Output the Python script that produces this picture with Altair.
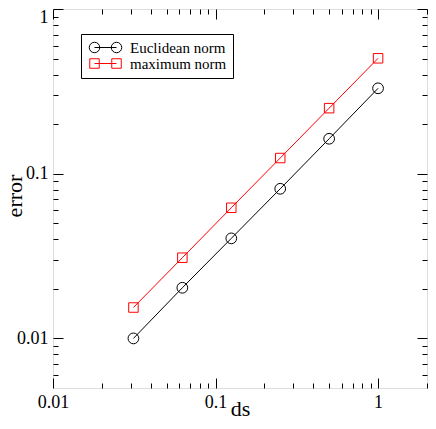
import altair as alt
import pandas as pd

# ---- data ----
ds = [0.03125, 0.0625, 0.125, 0.25, 0.5, 1.0]
euclidean = [0.0100, 0.0203, 0.0405, 0.0810, 0.163, 0.330]
maximum = [0.0154, 0.0309, 0.0621, 0.1245, 0.250, 0.502]
series = ["Euclidean norm", "maximum norm"]
colors = ["black", "red"]
shapes = ["circle", "square"]
sizes = [115, 90]

x_domain = [0.01, 2]
y_domain = [0.005, 1]
x_ticks = [0.01, 0.02, 0.03, 0.04, 0.05, 0.06, 0.07, 0.08, 0.09,
           0.1, 0.2, 0.3, 0.4, 0.5, 0.6, 0.7, 0.8, 0.9, 1, 2]
y_ticks = [0.006, 0.007, 0.008, 0.009,
           0.01, 0.02, 0.03, 0.04, 0.05, 0.06, 0.07, 0.08, 0.09,
           0.1, 0.2, 0.3, 0.4, 0.5, 0.6, 0.7, 0.8, 0.9, 1]

rows = []
for x, e, m in zip(ds, euclidean, maximum):
    rows.append({"ds": x, "error": e, "series": series[0]})
    rows.append({"ds": x, "error": m, "series": series[1]})
df = pd.DataFrame(rows)

W = 374
H = 379
FONT = "Liberation Serif"

# legend glyphs: marker - line - marker
legend_paths = [
    "M-1.05,0 A1.05,1.05 0 1,0 1.05,0 A1.05,1.05 0 1,0 -1.05,0 Z "
    "M0,0 L4.4,0 "
    "M3.35,0 A1.05,1.05 0 1,0 5.45,0 A1.05,1.05 0 1,0 3.35,0 Z",
    "M-0.95,-0.95 L0.95,-0.95 L0.95,0.95 L-0.95,0.95 Z "
    "M0,0 L4.4,0 "
    "M3.45,-0.95 L5.35,-0.95 L5.35,0.95 L3.45,0.95 Z",
]

major_test = "indexof([0.01, 0.1, 1], datum.value) >= 0"
label_expr = major_test + " ? datum.label : ''"
tick_size = {"condition": {"test": major_test, "value": 10}, "value": 5}

xs = alt.Scale(type="log", domain=x_domain, nice=False)
ys = alt.Scale(type="log", domain=y_domain, nice=False)

common_lab = dict(labelFont=FONT, labelFontSize=18, labelColor="black",
                  labelFlush=False, labelOverlap=False, grid=False, domain=False)

x_main = alt.Axis(orient="bottom", values=x_ticks, format="~g", labelExpr=label_expr,
                  ticks=False, tickSize=0, labelPadding=5,
                  title="ds", titleFont=FONT, titleFontSize=22, titleFontWeight="normal",
                  titleColor="black", titleX=187, titleY=27, titleBaseline="alphabetic",
                  titleAlign="center", **common_lab)
y_main = alt.Axis(orient="left", values=y_ticks, format="~g", labelExpr=label_expr,
                  ticks=False, tickSize=0, labelPadding=5,
                  labelOffset={"condition": {"test": "datum.value == 1", "value": 8}, "value": 0},
                  title="error", titleFont=FONT, titleFontSize=22, titleFontWeight="normal",
                  titleColor="black", titleX=-32, titleY=H / 2 - 3, titleAngle=270,
                  titleBaseline="alphabetic", titleAlign="center", **common_lab)


def inward(orient, values):
    return alt.Axis(orient=orient, offset=-W if orient in ("left", "right") else -H,
                    values=values, labels=False, title=None, domain=False, grid=False,
                    ticks=True, tickSize=tick_size, tickColor="black", tickWidth=1)


legend = alt.Legend(orient="none", legendX=28, legendY=25, title=None,
                    labelFont=FONT, labelFontSize=15, labelColor="black",
                    strokeColor="black", fillColor="white", padding=6,
                    labelOffset=28, symbolSize=100, rowPadding=0,
                    symbolOpacity=1, symbolStrokeWidth=1,
                    symbolFillColor="transparent")

color_scale = alt.Scale(domain=series, range=colors)

# invisible layer that carries the legend and the inward ticks of the top/right edges
legend_layer = alt.Chart(df).mark_point(opacity=0, filled=False, size=100).encode(
    x=alt.X("ds:Q", scale=xs, axis=inward("bottom", x_ticks)),
    y=alt.Y("error:Q", scale=ys, axis=inward("left", y_ticks)),
    color=alt.Color("series:N", scale=color_scale, legend=legend),
    shape=alt.Shape("series:N", scale=alt.Scale(domain=series, range=legend_paths), legend=legend),
)

# invisible layer for inward ticks on the bottom/left edges
tick_in_a = alt.Chart(df).mark_point(opacity=0).encode(
    x=alt.X("ds:Q", scale=xs, axis=inward("top", x_ticks)),
    y=alt.Y("error:Q", scale=ys, axis=inward("right", y_ticks)),
)

lines = alt.Chart(df).mark_line(strokeWidth=1).encode(
    x=alt.X("ds:Q", scale=xs, axis=x_main),
    y=alt.Y("error:Q", scale=ys, axis=y_main),
    color=alt.Color("series:N", scale=color_scale),
)

point_layers = []
for name, shp, sz in zip(series, shapes, sizes):
    point_layers.append(
        alt.Chart(df).transform_filter(alt.datum.series == name)
        .mark_point(filled=False, strokeWidth=1, opacity=1, shape=shp, size=sz)
        .encode(
            x=alt.X("ds:Q", scale=xs, axis=None),
            y=alt.Y("error:Q", scale=ys, axis=None),
            color=alt.Color("series:N", scale=color_scale),
        )
    )

chart = alt.layer(legend_layer, tick_in_a, lines, *point_layers).resolve_axis(
    x="independent", y="independent"
).properties(
    width=W, height=H,
    padding={"left": 45, "top": 1, "right": 1, "bottom": 32},
    autosize=alt.AutoSizeParams(type="none"),
).configure_view(stroke="black", strokeWidth=1.5).configure(background="white")

chart.save("out.html", embed_options={"renderer": "svg", "actions": False})
